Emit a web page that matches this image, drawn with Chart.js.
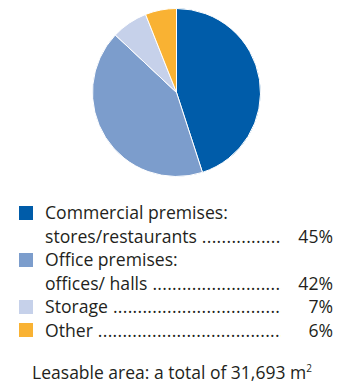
<!DOCTYPE html>
<html>
<head>
<meta charset="utf-8">
<script src="https://cdn.jsdelivr.net/npm/chart.js@4/dist/chart.umd.min.js"></script>
<style>
  html, body { margin: 0; padding: 0; background: #fff; }
  body { width: 344px; height: 385px; position: relative; overflow: hidden;
         font-family: "Open Sans", Lato, sans-serif; color: #231f20; }
  #pieWrap { position: absolute; left: 92px; top: 8px; width: 169px; height: 169px; }
  #legend { position: absolute; left: 19px; top: 201px; width: 314px; font-size: 17.6px; line-height: 23.5px; }
  .row { display: flex; align-items: center; white-space: nowrap; }
  .sq { width: 14px; height: 14px; flex: none; margin-right: 12px; }
  .gap { width: 14px; flex: none; margin-right: 12px; }
  .lbl { flex: none; }
  .dots { flex: 1; overflow: hidden; margin-left: 5px; letter-spacing: 0.3px; }
  .val { flex: none; width: 52px; text-align: right; }
  #total { position: absolute; left: 0; width: 344px; top: 360px; text-align: center; font-size: 17.5px; }
  #total sup { font-size: 10px; vertical-align: 7px; line-height: 0; }
</style>
</head>
<body>
<div id="pieWrap"><canvas id="areaChart" width="169" height="169"></canvas></div>
<div id="legend"></div>
<div id="total">Leasable area: a total of 31,693 m<sup>2</sup></div>

<script>
// leasable area split by use, in percent
var categories = [
  ['Commercial premises:', 'stores/restaurants'],
  ['Office premises:', 'offices/ halls'],
  ['Storage'],
  ['Other']
];
var shares = [45, 42, 7, 6];
var colors = ['#005ca9', '#7c9dcc', '#c6d1ea', '#f9b233'];

new Chart(document.getElementById('areaChart'), {
  type: 'pie',
  data: {
    labels: categories.map(function (c) { return c.join(' '); }),
    datasets: [{
      data: shares,
      backgroundColor: colors,
      borderColor: '#ffffff',
      borderWidth: 1
    }]
  },
  options: {
    responsive: false,
    animation: false,
    layout: { padding: 0 },
    plugins: {
      legend: { display: false },
      tooltip: { enabled: false }
    }
  }
});

// legend rows with dotted leaders
var legend = document.getElementById('legend');
var dotString = new Array(80).join('.');
categories.forEach(function (lines, i) {
  lines.forEach(function (text, j) {
    var row = document.createElement('div');
    row.className = 'row';
    var last = j === lines.length - 1;
    row.innerHTML =
      (j === 0 ? '<span class="sq" style="background:' + colors[i] + '"></span>' : '<span class="gap"></span>') +
      '<span class="lbl">' + text + '</span>' +
      (last ? '<span class="dots">' + dotString + '</span><span class="val">' + shares[i] + '%</span>' : '');
    legend.appendChild(row);
  });
});
</script>
</body>
</html>
